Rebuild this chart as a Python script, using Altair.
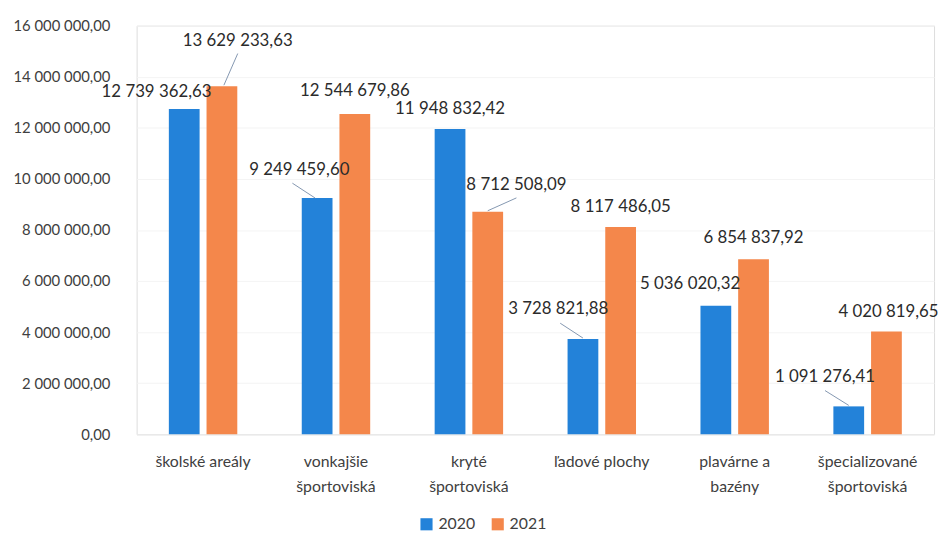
import altair as alt
import pandas as pd

categories = ["školské areály", "vonkajšie\nšportoviská", "kryté\nšportoviská",
              "ľadové plochy", "plavárne a\nbazény", "špecializované\nšportoviská"]
years = ["2020", "2021"]
values_2020 = [12739362.63, 9249459.60, 11948832.42, 3728821.88, 5036020.32, 1091276.41]
values_2021 = [13629233.63, 12544679.86, 8712508.09, 8117486.05, 6854837.92, 4020819.65]
y_ticks = [0, 2000000, 4000000, 6000000, 8000000, 10000000, 12000000, 14000000, 16000000]

# label placement (pixels, relative to the top centre of each bar)
label_dx = {"2020": [-28, -18, 0, -25, -26, -24], "2021": [16, 0, 29, 0, 0, 2]}
label_dy = {"2020": [-17, -28, -20, -30, -22, -30], "2021": [-46, -23, -27, -20, -21, -20]}
# leader lines: (category index, year) -> (x0, y0, x1, y1) pixels relative to bar top
leaders = {(0, "2021"): (2, -1, 16, -33), (1, "2020"): (-2, 0, -25, -15),
           (2, "2021"): (0, -1, 29, -14), (3, "2020"): (0, -1, -23, -16),
           (5, "2020"): (0, -1, -24, -16)}

BLUE = "#2382d9"
ORANGE = "#f4874b"
FONT = "Lato"


def fmt(v):
    return f"{v:,.2f}".replace(",", " ").replace(".", ",")


rows = []
for i, c in enumerate(categories):
    for y, vals in (("2020", values_2020), ("2021", values_2021)):
        rows.append({"idx": i, "cat": c, "year": y, "value": vals[i], "label": fmt(vals[i])})
df = pd.DataFrame(rows)

x_enc = alt.X("cat:N", sort=categories, title=None,
              scale=alt.Scale(paddingInner=0.485, paddingOuter=0.2425),
              axis=alt.Axis(labelExpr="split(datum.label, '\\n')", labelAngle=0,
                            labelFontSize=16, labelColor="#404040", labelFont=FONT,
                            labelLineHeight=25, labelPadding=28, ticks=False,
                            domain=True, domainColor="#e6e6e6", labelBaseline="middle"))
xo_enc = alt.XOffset("year:N", scale=alt.Scale(domain=years, paddingInner=0.184, paddingOuter=0))
y_enc = alt.Y("value:Q", title=None,
              scale=alt.Scale(domain=[0, 16000000], nice=False),
              axis=alt.Axis(values=y_ticks, format=",.2f", labelFontSize=15,
                            labelColor="#404040", labelFont=FONT, ticks=False,
                            domain=False, grid=True, gridColor="#f4f4f4",
                            labelPadding=27))

base = alt.Chart(df)
bars = base.mark_bar().encode(
    x=x_enc, xOffset=xo_enc, y=y_enc,
    color=alt.Color("year:N", scale=alt.Scale(domain=years, range=[BLUE, ORANGE]),
                    legend=alt.Legend(title=None, orient="none", direction="horizontal",
                                      legendX=285, legendY=496,
                                      symbolType="square", symbolSize=150,
                                      labelFontSize=16, labelFont=FONT, labelColor="#404040",
                                      columnPadding=14))
)

layers = [bars]
for y in years:
    for i in range(len(categories)):
        layers.append(
            base.transform_filter((alt.datum.idx == i) & (alt.datum.year == y))
            .mark_text(fontSize=17, font=FONT, color="#2b2b2b", baseline="middle",
                       dx=label_dx[y][i], dy=label_dy[y][i])
            .encode(x=alt.X("cat:N", sort=categories), xOffset=alt.XOffset("year:N"),
                    y="value:Q", text="label:N")
        )

H = 40.0
for (i, y), (x0, y0, x1, y1) in leaders.items():
    path = f"M{x0 / H:.4f},{y0 / H:.4f}L{x1 / H:.4f},{y1 / H:.4f}"
    layers.append(
        base.transform_filter((alt.datum.idx == i) & (alt.datum.year == y))
        .mark_point(shape=path, size=(2 * H) ** 2, filled=False, stroke="#8497b0",
                    strokeWidth=1, opacity=1)
        .encode(x=alt.X("cat:N", sort=categories), xOffset=alt.XOffset("year:N"),
                y="value:Q")
    )

chart = alt.layer(*layers).properties(
    width=806, height=413,
    padding={"left": 4, "top": 8, "right": 0, "bottom": 0},
).configure_view(stroke=None).configure(
    locale={"number": {"decimal": ",", "thousands": " ", "grouping": [3], "currency": ["", ""]}}
)

chart.save("out.html", embed_options={"renderer": "svg", "actions": False})
